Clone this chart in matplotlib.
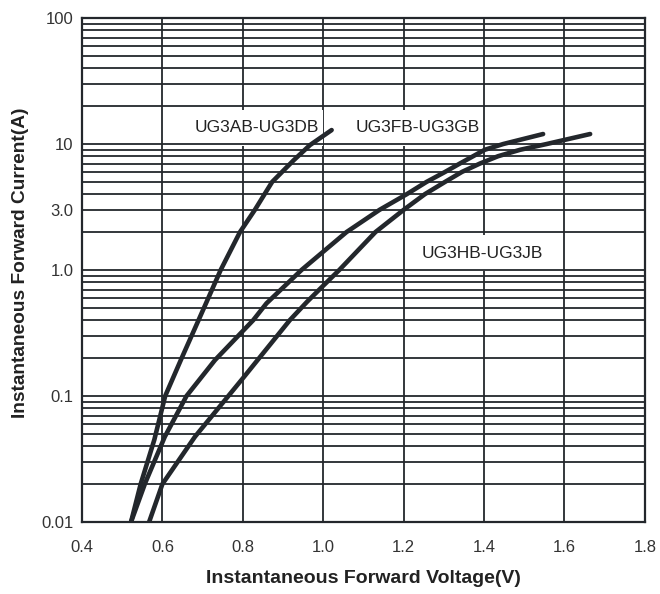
import numpy as np
import matplotlib
matplotlib.use("Agg")
import matplotlib.pyplot as plt
from matplotlib.path import Path

plt.rcParams['font.family'] = ['Liberation Sans', 'DejaVu Sans']

# forward voltage (V) / current (A)
va = [0.522, 0.546, 0.58, 0.607, 0.648, 0.69, 0.745, 0.793, 0.83, 0.873, 0.926, 0.967, 1.021]
ia = [0.01, 0.02, 0.045, 0.1, 0.2, 0.4, 1.0, 2.0, 3.0, 5.0, 7.4, 9.8, 12.9]

vf = [0.522, 0.557, 0.606, 0.66, 0.731, 0.826, 0.859, 0.946, 1.058, 1.14, 1.208, 1.257, 1.303, 1.34, 1.373, 1.402, 1.448, 1.547]
i_f = [0.01, 0.0203, 0.0475, 0.1, 0.193, 0.40, 0.544, 1.0, 2.0, 3.0, 4.0, 5.0, 6.0, 7.0, 8.0, 9.0, 10.0, 12.0]

vh = [0.567, 0.60, 0.681, 0.8, 0.917, 0.96, 1.0, 1.04, 1.13, 1.2, 1.253, 1.303, 1.345, 1.39, 1.435, 1.49, 1.556, 1.664]
ih = [0.01, 0.02, 0.0475, 0.138, 0.40, 0.56, 0.75, 1.0, 2.0, 3.0, 4.0, 5.0, 6.0, 7.0, 8.0, 9.0, 10.0, 12.0]

names = ["UG3AB-UG3DB", "UG3FB-UG3GB", "UG3HB-UG3JB"]
name_pos = [(0.835, 13.4), (1.235, 13.4), (1.395, 1.36)]

xticks = [0.4, 0.6, 0.8, 1.0, 1.2, 1.4, 1.6, 1.8]
yticks = [0.01, 0.1, 1.0, 3.0, 10, 100]
ylabels = ["0.01", "0.1", "1.0", "3.0", "10", "100"]

dark = "#23272c"


def label_box(x0, y0, width, height, mutation_size):
    # narrow at the sides, tall above/below so it hides the vertical lines
    px = 0.2 * mutation_size
    py = 0.6 * mutation_size
    return Path([(x0 - px, y0 - py), (x0 + width + px, y0 - py),
                 (x0 + width + px, y0 + height + py), (x0 - px, y0 + height + py),
                 (x0 - px, y0 - py)], closed=True)


fig = plt.figure(figsize=(6.6, 5.94), dpi=100)
ax = fig.add_axes([0.1242, 0.1212, 0.8528, 0.8485])

ax.set_yscale("log")
ax.set_xlim(0.4, 1.8)
ax.set_ylim(0.01, 100)

ax.set_xticks(xticks)
ax.set_xticklabels([f"{x:.1f}" for x in xticks])
ax.set_yticks(yticks)
ax.set_yticklabels(ylabels)
ax.yaxis.set_minor_locator(matplotlib.ticker.LogLocator(base=10, subs=np.arange(2, 10)))
ax.yaxis.set_minor_formatter(matplotlib.ticker.NullFormatter())

ax.grid(True, which="major", axis="x", color=dark, lw=1.3)
ax.grid(True, which="both", axis="y", color=dark, lw=1.3)
ax.tick_params(which="both", length=0)
ax.tick_params(axis="x", pad=13, labelsize=12, labelcolor="#333333")
ax.tick_params(axis="y", pad=6, labelsize=12, labelcolor="#333333")

# vertical lines below the label boxes, horizontal ones above
ax.xaxis.set_zorder(0.8)
ax.yaxis.set_zorder(2.2)

for s in ax.spines.values():
    s.set_color(dark)
    s.set_linewidth(1.6)
    s.set_zorder(2.3)

for v, i in [(va, ia), (vf, i_f), (vh, ih)]:
    ax.plot(v, i, color=dark, lw=3.3, zorder=3, solid_capstyle="round", solid_joinstyle="round")

for n, (x, y) in zip(names, name_pos):
    ax.text(x, y, n, ha="center", va="center", fontsize=12.5, color="#222222", zorder=1.5,
            bbox=dict(boxstyle=label_box, fc="white", ec="none"))

ax.set_xlabel("Instantaneous Forward Voltage(V)", fontsize=14, fontweight="bold", color="#222222", labelpad=11)
ax.set_ylabel("Instantaneous Forward Current(A)", fontsize=13.8, fontweight="bold", color="#222222")
ax.yaxis.set_label_coords(-0.095, 0.515)

fig.savefig("out.png", dpi=100)
